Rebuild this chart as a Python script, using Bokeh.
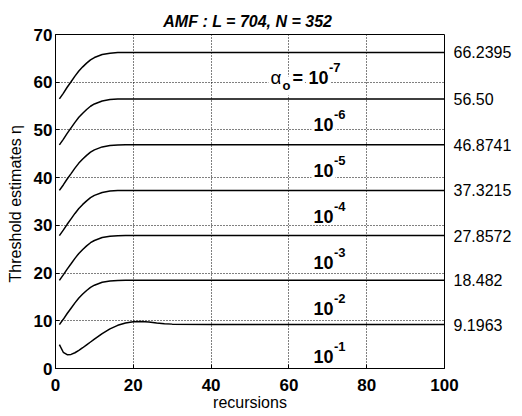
from bokeh.plotting import figure
from bokeh.models import (LinearAxis, FixedTicker, CustomJSTickFormatter, Range1d,
                          ColumnDataSource)
from bokeh.core.properties import value
from bokeh.embed import file_html
from bokeh.resources import INLINE

# ---------------- data ----------------
recursions = [1, 2, 3, 4, 5, 6, 7, 8, 9, 10, 12, 14, 16, 18, 20, 22, 24, 26, 28, 30, 40, 60, 80, 100]

eta_1e7 = [56.50, 57.67, 58.94, 60.10, 61.27, 62.34, 63.22, 64.00, 64.68, 65.17, 65.80, 66.09, 66.21, 66.24,
           66.24, 66.24, 66.24, 66.24, 66.24, 66.24, 66.24, 66.24, 66.24, 66.24]
eta_1e6 = [46.87, 48.03, 49.28, 50.43, 51.59, 52.65, 53.51, 54.29, 54.96, 55.44, 56.07, 56.36, 56.47, 56.50,
           56.50, 56.50, 56.50, 56.50, 56.50, 56.50, 56.50, 56.50, 56.50, 56.50]
eta_1e5 = [37.32, 38.47, 39.71, 40.85, 42.00, 43.05, 43.91, 44.67, 45.34, 45.82, 46.44, 46.73, 46.84, 46.87,
           46.87, 46.87, 46.87, 46.87, 46.87, 46.87, 46.87, 46.87, 46.87, 46.87]
eta_1e4 = [27.86, 28.99, 30.22, 31.36, 32.50, 33.54, 34.39, 35.14, 35.81, 36.28, 36.89, 37.18, 37.29, 37.32,
           37.32, 37.32, 37.32, 37.32, 37.32, 37.32, 37.32, 37.32, 37.32, 37.32]
eta_1e3 = [18.48, 19.61, 20.83, 21.95, 23.08, 24.11, 24.95, 25.70, 26.36, 26.83, 27.44, 27.72, 27.83, 27.86,
           27.86, 27.86, 27.86, 27.86, 27.86, 27.86, 27.86, 27.86, 27.86, 27.86]
eta_1e2 = [9.20, 10.31, 11.52, 12.63, 13.75, 14.77, 15.60, 16.35, 17.00, 17.46, 18.06, 18.34, 18.45, 18.48,
           18.48, 18.48, 18.48, 18.48, 18.48, 18.48, 18.48, 18.48, 18.48, 18.48]
eta_1e1 = [5.00, 3.40, 2.90, 2.95, 3.30, 3.80, 4.35, 4.95, 5.55, 6.15, 7.30, 8.30, 9.05, 9.55,
           9.80, 9.85, 9.75, 9.55, 9.40, 9.30, 9.20, 9.20, 9.20, 9.20]

final_values = [9.1963, 18.482, 27.8572, 37.3215, 46.8741, 56.50, 66.2395]
final_labels = ["9.1963", "18.482", "27.8572", "37.3215", "46.8741", "56.50", "66.2395"]

alpha_exponents = ["-1", "-2", "-3", "-4", "-5", "-6", "-7"]
x_ticks = [0, 20, 40, 60, 80, 100]
y_ticks = [0, 10, 20, 30, 40, 50, 60, 70]

# ---------------- layout constants ----------------
FONT = "Liberation Sans"
label_x = 65.8
label_y = [2.6, 12.5, 22.3, 31.9, 41.6, 51.2, 60.9]

p = figure(width=518, height=413, output_backend="svg", toolbar_location=None,
           x_range=Range1d(0, 100), y_range=Range1d(0, 70),
           min_border_left=55, min_border_right=74, min_border_top=34, min_border_bottom=43,
           title="AMF :  L = 704, N = 352")
p.background_fill_color = "white"
p.border_fill_color = "white"
p.outline_line_color = "black"
p.outline_line_width = 1

p.title.text_font = FONT
p.title.text_font_size = "16px"
p.title.text_font_style = "bold italic"
p.title.align = "center"
p.title.text_color = "black"

# axes
p.xaxis.ticker = FixedTicker(ticks=x_ticks)
p.yaxis.ticker = FixedTicker(ticks=y_ticks)
for ax in (p.xaxis[0], p.yaxis[0]):
    ax.major_tick_in = 4
    ax.major_tick_out = 0
    ax.minor_tick_line_color = None
    ax.axis_line_color = "black"
    ax.major_tick_line_color = "black"
    ax.major_label_text_font = FONT
    ax.major_label_text_font_size = "17px"
    ax.major_label_text_font_style = "bold"
    ax.major_label_text_color = "black"
    ax.axis_label_text_font = FONT
    ax.axis_label_text_font_size = "16px"
    ax.axis_label_text_font_style = "normal"
    ax.axis_label_text_color = "black"
p.xaxis.axis_label = "recursions"
p.yaxis.axis_label = "Threshold estimates  η"
p.xaxis.major_label_standoff = 10
p.xaxis.axis_label_standoff = 0
p.yaxis.major_label_standoff = 3
p.yaxis.axis_label_standoff = 7

right = LinearAxis(ticker=FixedTicker(ticks=final_values),
                   formatter=CustomJSTickFormatter(args=dict(labels=final_labels),
                                                   code="return labels[index];"))
right.major_tick_in = 0
right.major_tick_out = 0
right.minor_tick_line_color = None
right.axis_line_color = None
right.major_label_standoff = 9
right.major_label_text_font = FONT
right.major_label_text_font_size = "16px"
right.major_label_text_color = "black"
p.add_layout(right, "right")

# grid
p.xgrid.ticker = FixedTicker(ticks=x_ticks[1:-1])
p.ygrid.ticker = FixedTicker(ticks=y_ticks[1:-1])
for g in (p.xgrid[0], p.ygrid[0]):
    g.grid_line_color = "black"
    g.grid_line_dash = "1 2"
    g.grid_line_width = 1
    g.grid_line_alpha = 1.0

# curves
for series in (eta_1e1, eta_1e2, eta_1e3, eta_1e4, eta_1e5, eta_1e6, eta_1e7):
    p.line(recursions, series, line_color="black", line_width=1.5)

# alpha labels
n = len(alpha_exponents)
base_src = ColumnDataSource(dict(x=[label_x] * n, y=label_y, t=["10"] * n,
                                 xo=[0] * (n - 1) + [-5]))
exp_src = ColumnDataSource(dict(x=[label_x] * n, y=label_y, t=alpha_exponents,
                                xo=[20.5] * (n - 1) + [15.5]))
p.text(x="x", y="y", text="t", x_offset="xo", source=base_src,
       text_font=value(FONT), text_font_size="18px", text_font_style="bold",
       text_align="left", text_baseline="alphabetic", text_color="black",
       background_fill_color="white", padding=2)
p.text(x="x", y="y", text="t", x_offset="xo", y_offset=-10, source=exp_src,
       text_font=value(FONT), text_font_size="13px", text_font_style="bold",
       text_align="left", text_baseline="alphabetic", text_color="black",
       background_fill_color="white", padding=2)
# "alpha_o =" prefix of the top label (drawn "=", "α", then subscript last)
top = ColumnDataSource(dict(x=[label_x] * 3, y=[label_y[-1]] * 3, t=["=", "α", "o"],
                            xo=[-21, -43, -31], yo=[0, 0, 8],
                            fs=["18px", "19px", "13px"], fst=["bold", "normal", "bold"]))
p.text(x="x", y="y", text="t", x_offset="xo", y_offset="yo", source=top,
       text_font=value(FONT), text_font_size="fs", text_font_style="fst",
       text_align="left", text_baseline="alphabetic", text_color="black",
       background_fill_color="white", padding=2)

open("out.html", "w").write(file_html(p, INLINE))
